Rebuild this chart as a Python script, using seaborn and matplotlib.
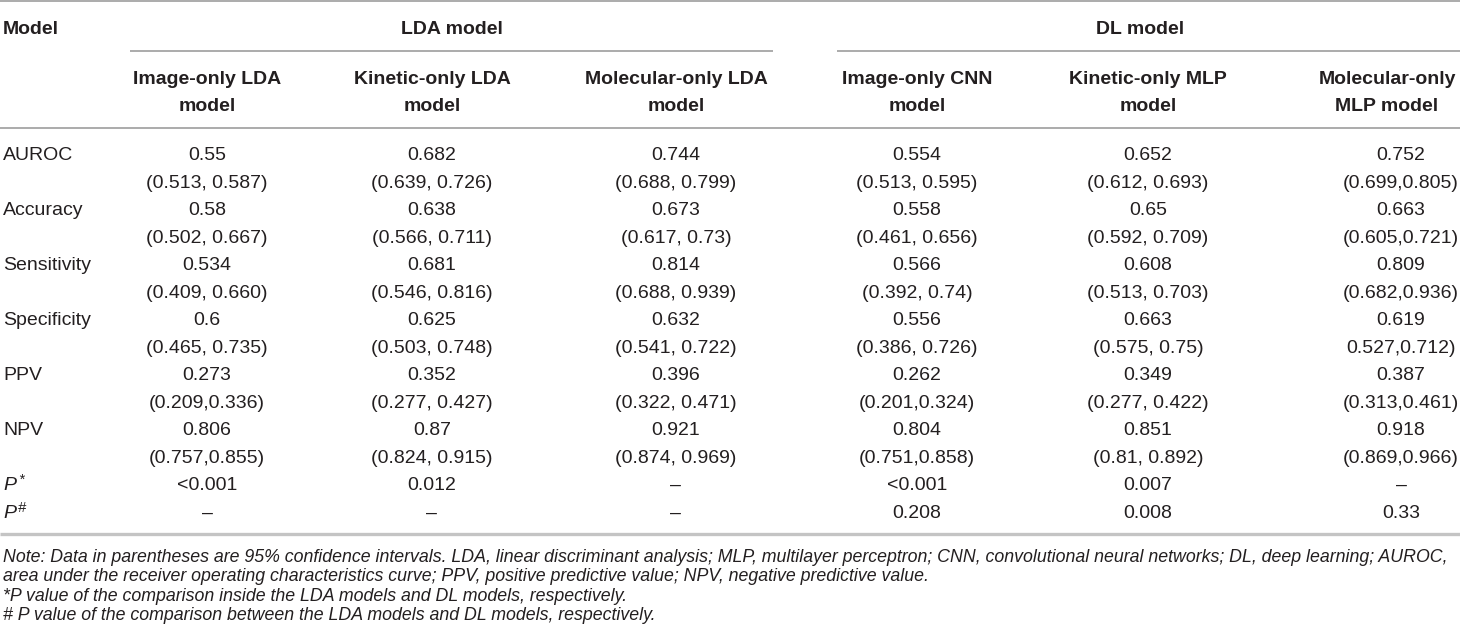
import matplotlib.pyplot as plt
import seaborn as sns

sns.set_theme(style="white")
plt.rcParams['font.family'] = ['Liberation Sans', 'DejaVu Sans']

# Table contents
groups = ["LDA model", "DL model"]
model_names = ["Image-only LDA\nmodel", "Kinetic-only LDA\nmodel", "Molecular-only LDA\nmodel",
               "Image-only CNN\nmodel", "Kinetic-only MLP\nmodel", "Molecular-only\nMLP model"]
metrics = ["AUROC", "Accuracy", "Sensitivity", "Specificity", "PPV", "NPV"]

# point estimates per model (same order as metrics)
image_lda = [0.55, 0.58, 0.534, 0.6, 0.273, 0.806]
kinetic_lda = [0.682, 0.638, 0.681, 0.625, 0.352, 0.87]
molecular_lda = [0.744, 0.673, 0.814, 0.632, 0.396, 0.921]
image_cnn = [0.554, 0.558, 0.566, 0.556, 0.262, 0.804]
kinetic_mlp = [0.652, 0.65, 0.608, 0.663, 0.349, 0.851]
molecular_mlp = [0.752, 0.663, 0.809, 0.619, 0.387, 0.918]

# 95% confidence intervals, written as in the source
ci_image_lda = ["(0.513, 0.587)", "(0.502, 0.667)", "(0.409, 0.660)", "(0.465, 0.735)", "(0.209,0.336)", "(0.757,0.855)"]
ci_kinetic_lda = ["(0.639, 0.726)", "(0.566, 0.711)", "(0.546, 0.816)", "(0.503, 0.748)", "(0.277, 0.427)", "(0.824, 0.915)"]
ci_molecular_lda = ["(0.688, 0.799)", "(0.617, 0.73)", "(0.688, 0.939)", "(0.541, 0.722)", "(0.322, 0.471)", "(0.874, 0.969)"]
ci_image_cnn = ["(0.513, 0.595)", "(0.461, 0.656)", "(0.392, 0.74)", "(0.386, 0.726)", "(0.201,0.324)", "(0.751,0.858)"]
ci_kinetic_mlp = ["(0.612, 0.693)", "(0.592, 0.709)", "(0.513, 0.703)", "(0.575, 0.75)", "(0.277, 0.422)", "(0.81, 0.892)"]
ci_molecular_mlp = ["(0.699,0.805)", "(0.605,0.721)", "(0.682,0.936)", "0.527,0.712)", "(0.313,0.461)", "(0.869,0.966)"]

p_star = ["<0.001", "0.012", "\u2013", "<0.001", "0.007", "\u2013"]
p_hash = ["\u2013", "\u2013", "\u2013", "0.208", "0.008", "0.33"]

notes = [
    "Note: Data in parentheses are 95% confidence intervals. LDA, linear discriminant analysis; MLP, multilayer perceptron; "
    "CNN, convolutional neural networks; DL, deep learning; AUROC,",
    "area under the receiver operating characteristics curve; PPV, positive predictive value; NPV, negative predictive value.",
    "*P value of the comparison inside the LDA models and DL models, respectively.",
    "# P value of the comparison between the LDA models and DL models, respectively.",
]

values = [image_lda, kinetic_lda, molecular_lda, image_cnn, kinetic_mlp, molecular_mlp]
cis = [ci_image_lda, ci_kinetic_lda, ci_molecular_lda, ci_image_cnn, ci_kinetic_mlp, ci_molecular_mlp]

# layout (pixel coordinates, y grows downward)
W, H = 1460, 644
col_x = [207, 432, 676, 917, 1148, 1401]
head_x = [207, 432, 676, 917, 1148, 1387]
group_x = [452, 1140]
group_span = [(130, 773), (837, 1460)]
row0, step = 153, 27.5
ink = "#231f20"
rule = "#9d9d9d"
fs = 14
base = 7  # baseline offset from the visual centre of a line

fig = plt.figure(figsize=(W / 100, H / 100), dpi=100)
ax = fig.add_axes([0, 0, 1, 1])
ax.set_xlim(0, W)
ax.set_ylim(H, 0)
ax.axis("off")

# rules
ax.plot([0, W], [1, 1], color=rule, lw=1.2, solid_capstyle="butt")
for x0, x1 in group_span:
    ax.plot([x0, x1], [51, 51], color=rule, lw=1.2, solid_capstyle="butt")
ax.plot([0, W], [128, 128], color=rule, lw=1.2, solid_capstyle="butt")
ax.plot([0, W], [534, 534], color="#c4c4c4", lw=2.4, solid_capstyle="butt")

# header
ax.text(3, 27 + base, "Model", fontsize=fs, fontweight="bold", color=ink, va="baseline")
for gx, g in zip(group_x, groups):
    ax.text(gx, 27 + base, g, fontsize=fs, fontweight="bold", color=ink, ha="center", va="baseline")
for hx, name in zip(head_x, model_names):
    top, bottom = name.split("\n")
    ax.text(hx, 77 + base, top, fontsize=fs, fontweight="bold", color=ink, ha="center", va="baseline")
    ax.text(hx, 104 + base, bottom, fontsize=fs, fontweight="bold", color=ink, ha="center", va="baseline")

# body
for i, m in enumerate(metrics):
    y_val = row0 + step * (2 * i)
    y_ci = row0 + step * (2 * i + 1)
    ax.text(3, y_val + base, m, fontsize=fs, color=ink, va="baseline")
    for cx, vals, ci in zip(col_x, values, cis):
        ax.text(cx, y_val + base, str(vals[i]), fontsize=fs, color=ink, ha="center", va="baseline")
        ax.text(cx, y_ci + base, ci[i], fontsize=fs, color=ink, ha="center", va="baseline")

for k, (mark, pv) in enumerate([("*", p_star), ("#", p_hash)]):
    y = row0 + step * (12 + k)
    ax.text(3, y + base, "P", fontsize=fs, style="italic", color=ink, va="baseline")
    ax.text(18, y + base - 6, mark, fontsize=10.5, style="italic", color=ink, va="baseline")
    for cx, v in zip(col_x, pv):
        ax.text(cx, y + base, v, fontsize=fs, color=ink, ha="center", va="baseline")

# footnotes
for j, line in enumerate(notes):
    ax.text(3, 557 + 19.3 * j + 5, line, fontsize=12.75, style="italic", color=ink, va="baseline")

fig.savefig("out.png", dpi=100)
